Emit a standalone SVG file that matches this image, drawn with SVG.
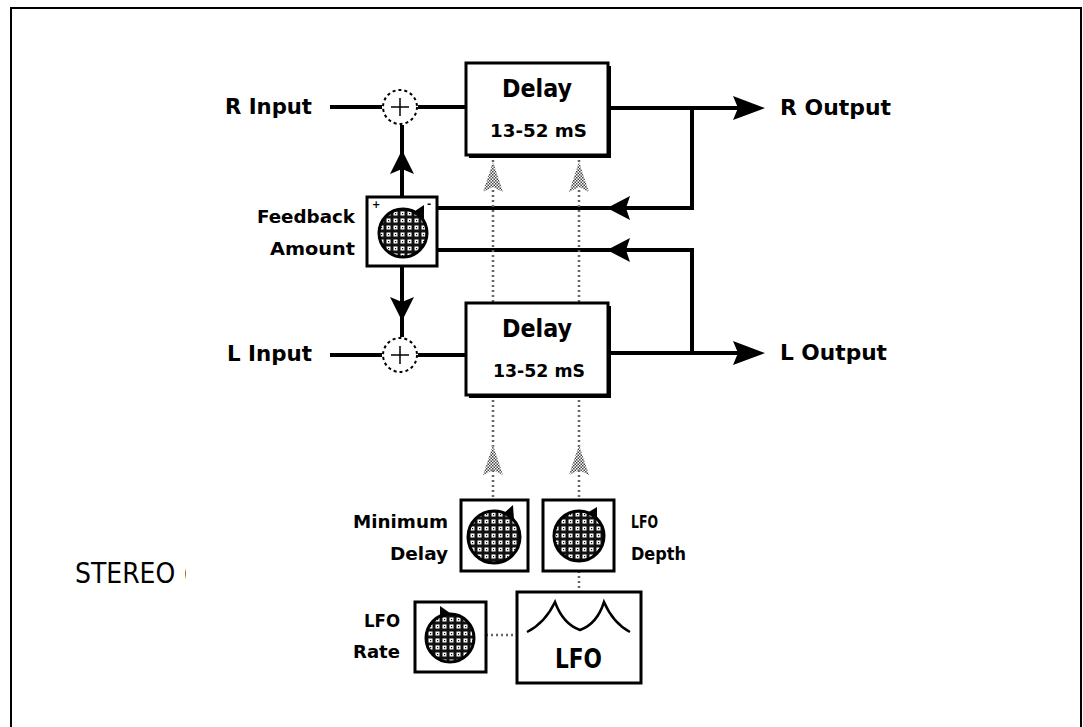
<svg xmlns="http://www.w3.org/2000/svg" width="1083" height="727" viewBox="0 0 1083 727">
<defs>
<style>
.lbl{font-family:"DejaVu Sans Condensed","DejaVu Sans",sans-serif;font-weight:bold;fill:#000}
.box{fill:#fff;stroke:#000;stroke-width:3}
.wire{fill:none;stroke:#000;stroke-width:4}
.mod{fill:none;stroke:#666;stroke-width:2.5;stroke-dasharray:2 3}
.knob{fill:url(#dots);stroke:#000;stroke-width:3}
.sum{fill:#fff;stroke:#000;stroke-width:2;stroke-dasharray:3 3}
</style>
<pattern id="dots" width="7" height="7" patternUnits="userSpaceOnUse">
<rect width="7" height="7" fill="#111"/>
<rect x="1.5" y="1.5" width="4" height="4" fill="#fff"/>
<rect x="3" y="3" width="1.2" height="1.2" fill="#111"/>
</pattern>
<pattern id="hatch" width="3" height="3" patternUnits="userSpaceOnUse">
<rect width="3" height="3" fill="#fff"/>
<rect width="1.5" height="1.5" fill="#444"/>
<rect x="1.5" y="1.5" width="1.5" height="1.5" fill="#444"/>
</pattern>
<clipPath id="cut"><rect x="0" y="0" width="186" height="727"/></clipPath>
</defs>
<rect x="0" y="0" width="1083" height="727" fill="#fff"/>
<rect x="11" y="8" width="1070" height="760" fill="none" stroke="#000" stroke-width="2"/>
<text x="75" y="583" clip-path="url(#cut)" font-family="DejaVu Sans Condensed, DejaVu Sans, sans-serif" font-size="28" fill="#000" textLength="118" lengthAdjust="spacingAndGlyphs">STEREO (</text>

<g id="connectors">
<line class="wire" x1="330" y1="107" x2="382" y2="107"/>
<line class="wire" x1="418" y1="107" x2="466" y2="107"/>
<line class="wire" x1="608" y1="108" x2="740" y2="108"/>
<polygon points="733,96 765,108 733,120 738,108" fill="#000"/>
<polyline class="wire" points="692,108 692,208 437,208"/>
<polygon points="607,208 630,196 626,208 630,220" fill="#000"/>
<line class="wire" x1="330" y1="355" x2="382" y2="355"/>
<line class="wire" x1="418" y1="355" x2="466" y2="355"/>
<line class="wire" x1="608" y1="353" x2="740" y2="353"/>
<polygon points="733,341 765,353 733,365 738,353" fill="#000"/>
<polyline class="wire" points="692,353 692,250 437,250"/>
<polygon points="607,250 630,238 626,250 630,262" fill="#000"/>
<line class="wire" x1="402" y1="197" x2="402" y2="125"/>
<polygon points="402,150 414,174 402,169 390,174" fill="#000"/>
<line class="wire" x1="402" y1="266" x2="402" y2="337"/>
<polygon points="402,321 414,297 402,302 390,297" fill="#000"/>
<line class="mod" x1="493" y1="155" x2="493" y2="303"/>
<line class="mod" x1="579" y1="155" x2="579" y2="303"/>
<line class="mod" x1="493" y1="395" x2="493" y2="500"/>
<line class="mod" x1="579" y1="395" x2="579" y2="500"/>
<polygon points="493,162 503,192 493,187 483,192" fill="url(#hatch)"/>
<polygon points="579,162 589,192 579,187 569,192" fill="url(#hatch)"/>
<polygon points="493,445 503,475 493,470 483,475" fill="url(#hatch)"/>
<polygon points="579,445 589,475 579,470 569,475" fill="url(#hatch)"/>
<line class="mod" x1="579" y1="571" x2="579" y2="592"/>
<line class="mod" x1="486" y1="635" x2="517" y2="635"/>
</g>

<g id="sum-r">
<circle class="sum" cx="400" cy="107" r="17"/>
<line x1="400" y1="98" x2="400" y2="116" stroke="#000" stroke-width="1.5"/>
<line x1="391" y1="107" x2="409" y2="107" stroke="#000" stroke-width="1.5"/>
</g>
<g id="sum-l">
<circle class="sum" cx="400" cy="355" r="17"/>
<line x1="400" y1="346" x2="400" y2="364" stroke="#000" stroke-width="1.5"/>
<line x1="391" y1="355" x2="409" y2="355" stroke="#000" stroke-width="1.5"/>
</g>

<g id="delay-r">
<rect x="469" y="66" width="142" height="92" fill="#000"/>
<rect class="box" x="466" y="63" width="142" height="92"/>
<text class="lbl" x="502" y="97" font-size="24" textLength="70" lengthAdjust="spacingAndGlyphs">Delay</text>
<text class="lbl" x="490" y="137" font-size="18" textLength="97" lengthAdjust="spacingAndGlyphs">13-52 mS</text>
</g>
<g id="delay-l">
<rect x="469" y="306" width="142" height="92" fill="#000"/>
<rect class="box" x="466" y="303" width="142" height="92"/>
<text class="lbl" x="502" y="337" font-size="24" textLength="70" lengthAdjust="spacingAndGlyphs">Delay</text>
<text class="lbl" x="493" y="377" font-size="18" textLength="92" lengthAdjust="spacingAndGlyphs">13-52 mS</text>
</g>

<g id="feedback">
<rect class="box" x="367" y="197" width="70" height="69"/>
<circle class="knob" cx="403" cy="233" r="24"/>
<polygon points="412,213 424,205 424,219" fill="#000"/>
<text x="372" y="208" font-family="DejaVu Sans, sans-serif" font-size="10" font-weight="bold">+</text>
<text x="427" y="207" font-family="DejaVu Sans, sans-serif" font-size="10" font-weight="bold">-</text>
<text class="lbl" x="257" y="223" font-size="18" textLength="98" lengthAdjust="spacingAndGlyphs">Feedback</text>
<text class="lbl" x="270" y="255" font-size="18" textLength="85" lengthAdjust="spacingAndGlyphs">Amount</text>
</g>

<g id="min-delay">
<rect class="box" x="461" y="500" width="67" height="71"/>
<circle class="knob" cx="494" cy="537" r="26"/>
<polygon points="503,514 513,505 514,520" fill="#000"/>
<text class="lbl" x="353" y="528" font-size="18" textLength="95" lengthAdjust="spacingAndGlyphs">Minimum</text>
<text class="lbl" x="390" y="560" font-size="18" textLength="58" lengthAdjust="spacingAndGlyphs">Delay</text>
</g>

<g id="lfo-depth">
<rect class="box" x="543" y="500" width="71" height="71"/>
<circle class="knob" cx="579" cy="536" r="25"/>
<polygon points="587,513 597,507 597,520" fill="#000"/>
<text class="lbl" x="631" y="528" font-size="18" textLength="27" lengthAdjust="spacingAndGlyphs">LFO</text>
<text class="lbl" x="631" y="560" font-size="18" textLength="55" lengthAdjust="spacingAndGlyphs">Depth</text>
</g>

<g id="lfo-rate">
<rect class="box" x="415" y="602" width="71" height="70"/>
<circle class="knob" cx="450" cy="638" r="24"/>
<polygon points="440,606 450,613 440,619" fill="#000"/>
<text class="lbl" x="364" y="627" font-size="18" textLength="36" lengthAdjust="spacingAndGlyphs">LFO</text>
<text class="lbl" x="353" y="658" font-size="18" textLength="47" lengthAdjust="spacingAndGlyphs">Rate</text>
</g>

<g id="lfo">
<rect class="box" x="517" y="592" width="124" height="91"/>
<path d="M527,632 Q545,623 555,602 Q563,624 580,630 Q597,624 604,602 Q613,623 630,632" fill="none" stroke="#000" stroke-width="2.5"/>
<text class="lbl" x="555" y="668" font-size="27" textLength="47" lengthAdjust="spacingAndGlyphs">LFO</text>
</g>

<g id="io-labels">
<text class="lbl" x="225" y="114" font-size="22" textLength="87" lengthAdjust="spacingAndGlyphs">R Input</text>
<text class="lbl" x="780" y="115" font-size="22" textLength="111" lengthAdjust="spacingAndGlyphs">R Output</text>
<text class="lbl" x="227" y="361" font-size="22" textLength="85" lengthAdjust="spacingAndGlyphs">L Input</text>
<text class="lbl" x="780" y="360" font-size="22" textLength="107" lengthAdjust="spacingAndGlyphs">L Output</text>
</g>
</svg>
